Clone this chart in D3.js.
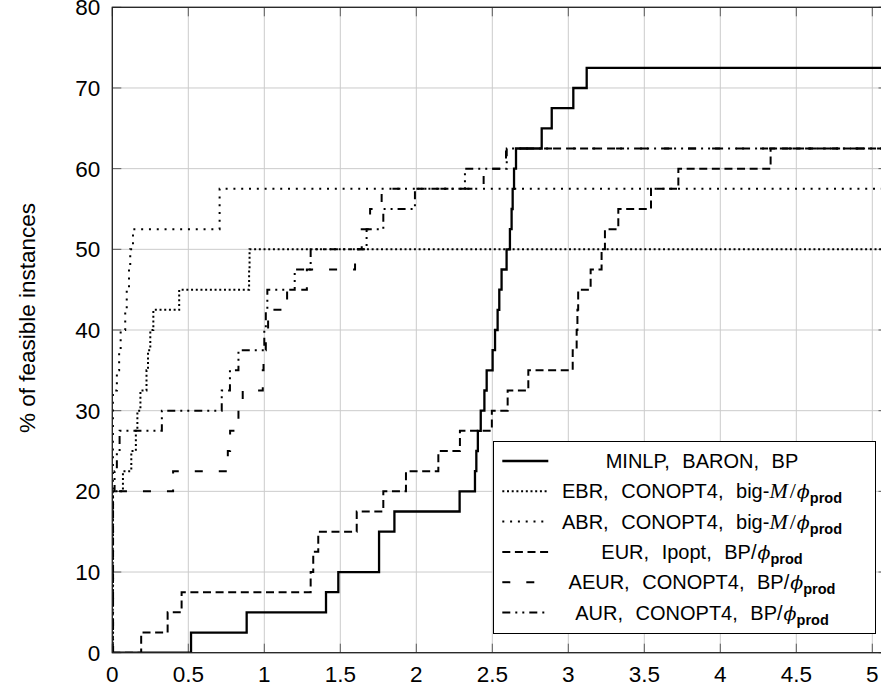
<!DOCTYPE html>
<html>
<head>
<meta charset="utf-8">
<script src="https://cdn.jsdelivr.net/npm/d3@7"></script>
<style>
  body { margin: 0; background: #fff; }
</style>
</head>
<body>
<div id="chart-container"></div>
<script>
/* global d3 */

// Data: step points (x where the curve jumps to y), % of feasible instances
const minlpX = [0, 0.518, 0.884, 1.406, 1.487, 1.755, 1.856, 2.285, 2.386, 2.395, 2.405, 2.424, 2.448, 2.463, 2.502, 2.518, 2.535, 2.546, 2.561, 2.594, 2.616, 2.627, 2.634, 2.643, 2.656, 2.825, 2.891, 3.033, 3.121]
const minlpY = [0, 2.5, 5, 7.5, 10, 15, 17.5, 20, 22.5, 25, 27.5, 30, 32.5, 35, 37.5, 40, 42.5, 45, 47.5, 50, 52.5, 55, 57.5, 60, 62.5, 65, 67.5, 70, 72.5]

const ebrX = [0, 0.003, 0.07, 0.125, 0.155, 0.165, 0.185, 0.225, 0.235, 0.25, 0.27, 0.44, 0.9, 0.903]
const ebrY = [0, 20, 22.5, 25, 27.5, 30, 32.5, 35, 37.5, 40, 42.5, 45, 47.5, 50]

const abrX = [0, 0.004, 0.03, 0.045, 0.055, 0.085, 0.095, 0.11, 0.118, 0.136, 0.706]
const abrY = [0, 32.5, 35, 37.5, 40, 42.5, 45, 47.5, 50, 52.5, 57.5]

const eurX = [0, 0.19, 0.364, 0.456, 1.305, 1.322, 1.355, 1.608, 1.783, 1.932, 2.145, 2.287, 2.497, 2.601, 2.737, 3.029, 3.055, 3.06, 3.065, 3.147, 3.219, 3.241, 3.329, 3.544, 3.724, 4.331]
const eurY = [0, 2.5, 5, 7.5, 10, 12.5, 15, 17.5, 20, 22.5, 25, 27.5, 30, 32.5, 35, 37.5, 40, 42.5, 45, 47.5, 50, 52.5, 55, 57.5, 60, 62.5]

const aeurX = [0, 0.005, 0.4, 0.76, 0.775, 0.83, 0.858, 0.99, 0.995, 1.01, 1.025, 1.15, 1.28, 1.597, 1.641, 1.696, 1.772, 2.443, 2.59]
const aeurY = [0, 20, 22.5, 25, 27.5, 30, 32.5, 35, 37.5, 40, 42.5, 45, 47.5, 50, 52.5, 55, 57.5, 60, 62.5]

const aurX = [0, 0.005, 0.015, 0.03, 0.048, 0.326, 0.72, 0.774, 0.83, 1.0, 1.01, 1.02, 1.2, 1.305, 1.673, 1.783, 1.991, 2.32, 2.595]
const aurY = [0, 20, 22.5, 25, 27.5, 30, 32.5, 35, 37.5, 40, 42.5, 45, 47.5, 50, 52.5, 55, 57.5, 60, 62.5]

const xTicks = [0, 0.5, 1, 1.5, 2, 2.5, 3, 3.5, 4, 4.5, 5]
const xTickLabels = ['0', '0.5', '1', '1.5', '2', '2.5', '3', '3.5', '4', '4.5', '5']
const yTicks = [0, 10, 20, 30, 40, 50, 60, 70, 80]
const yTickLabels = ['0', '10', '20', '30', '40', '50', '60', '70', '80']

const legendLabels = [
  'MINLP, BARON, BP',
  'EBR, CONOPT4, big-',
  'ABR, CONOPT4, big-',
  'EUR, Ipopt, BP/',
  'AEUR, CONOPT4, BP/',
  'AUR, CONOPT4, BP/',
]
const legendBigM = [false, true, true, false, false, false]
const legendPhi = [false, true, true, true, true, true]
const yLabel = '% of feasible instances'

// Options:
const width = 881
const height = 691
const plotLeft = 112.3
const plotTop = 7.3
const plotBottom = 652.7
const pxPerUnitX = 152
const xMax = 5.1
const tickLen = 9
const sansFont = "'Liberation Sans', Arial, sans-serif"

const svg = d3
  .select('#chart-container')
  .append('svg')
  .attr('width', width)
  .attr('height', height)
  .attr('viewBox', `0 0 ${width} ${height}`)
  .style('display', 'block')
  .style('background', '#fff')

const xScale = d3
  .scaleLinear()
  .domain([0, xMax])
  .range([plotLeft, plotLeft + xMax * pxPerUnitX])
const yScale = d3.scaleLinear().domain([0, 80]).range([plotBottom, plotTop])

const [x0, x1] = xScale.range()
const [y0, y1] = yScale.range()

svg
  .append('defs')
  .append('clipPath')
  .attr('id', 'plot-clip')
  .append('rect')
  .attr('x', x0)
  .attr('y', y1)
  .attr('width', x1 - x0)
  .attr('height', y0 - y1)

// grid lines
const grid = svg.append('g').attr('stroke', '#cbcbcb').attr('stroke-width', 1)
grid
  .selectAll('line.vgrid')
  .data(xTicks)
  .join('line')
  .attr('class', 'vgrid')
  .attr('x1', d => xScale(d))
  .attr('x2', d => xScale(d))
  .attr('y1', y0)
  .attr('y2', y1)
grid
  .selectAll('line.hgrid')
  .data(yTicks)
  .join('line')
  .attr('class', 'hgrid')
  .attr('x1', x0)
  .attr('x2', x1)
  .attr('y1', d => yScale(d))
  .attr('y2', d => yScale(d))

// inward tick marks on all four sides
const ticks = svg.append('g').attr('stroke', '#5a5a5a').attr('stroke-width', 1)
xTicks.forEach(t => {
  ticks.append('line').attr('x1', xScale(t)).attr('x2', xScale(t)).attr('y1', y0).attr('y2', y0 - tickLen)
  ticks.append('line').attr('x1', xScale(t)).attr('x2', xScale(t)).attr('y1', y1).attr('y2', y1 + tickLen)
})
yTicks.forEach(t => {
  ticks.append('line').attr('x1', x0).attr('x2', x0 + tickLen).attr('y1', yScale(t)).attr('y2', yScale(t))
  ticks.append('line').attr('x1', x1).attr('x2', x1 - tickLen).attr('y1', yScale(t)).attr('y2', yScale(t))
})

// series
const series = [
  { xs: minlpX, ys: minlpY, dash: null, lw: 2.3 },
  { xs: ebrX, ys: ebrY, dash: '2,2.7', lw: 2 },
  { xs: abrX, ys: abrY, dash: '2,5.8', lw: 2 },
  { xs: eurX, ys: eurY, dash: '8,4.6', lw: 2 },
  { xs: aeurX, ys: aeurY, dash: '8,16', lw: 2 },
  { xs: aurX, ys: aurY, dash: '8,5,2,5,2,5', lw: 2 },
]

const stepLine = d3
  .line()
  .x(d => xScale(d[0]))
  .y(d => yScale(d[1]))
  .curve(d3.curveStepAfter)

const lines = svg.append('g').attr('clip-path', 'url(#plot-clip)')
series.forEach(s => {
  const pts = s.xs.map((x, i) => [x, s.ys[i]])
  pts.push([xMax + 0.2, s.ys[s.ys.length - 1]])
  lines
    .append('path')
    .attr('d', stepLine(pts))
    .attr('fill', 'none')
    .attr('stroke', '#000')
    .attr('stroke-width', s.lw)
    .attr('stroke-dasharray', s.dash)
})

// axis frame
svg
  .append('rect')
  .attr('x', x0)
  .attr('y', y1)
  .attr('width', x1 - x0)
  .attr('height', y0 - y1)
  .attr('fill', 'none')
  .attr('stroke', '#222')
  .attr('stroke-width', 1.3)

// tick labels
svg
  .append('g')
  .attr('font-family', sansFont)
  .attr('font-size', 22.5)
  .attr('fill', '#000')
  .attr('text-anchor', 'middle')
  .selectAll('text')
  .data(xTicks)
  .join('text')
  .attr('x', d => xScale(d))
  .attr('y', y0 + 29)
  .text((d, i) => xTickLabels[i])

svg
  .append('g')
  .attr('font-family', sansFont)
  .attr('font-size', 22.5)
  .attr('fill', '#000')
  .attr('text-anchor', 'end')
  .selectAll('text')
  .data(yTicks)
  .join('text')
  .attr('x', x0 - 12)
  .attr('y', d => yScale(d) + 8)
  .text((d, i) => yTickLabels[i])

// y-axis label
svg
  .append('text')
  .attr('transform', `translate(35, 318) rotate(-90)`)
  .attr('text-anchor', 'middle')
  .attr('font-family', sansFont)
  .attr('font-size', 22.5)
  .attr('fill', '#000')
  .text(yLabel)

// legend
const legendX = 493.5
const legendY = 441.5
const legendW = 382
const legendH = 192
const rowTop = 461
const rowGap = 30.3

const legend = svg.append('g')
legend
  .append('rect')
  .attr('x', legendX)
  .attr('y', legendY)
  .attr('width', legendW)
  .attr('height', legendH)
  .attr('fill', '#fff')
  .attr('stroke', '#000')
  .attr('stroke-width', 1)

legendLabels.forEach((label, i) => {
  const cy = rowTop + i * rowGap
  legend
    .append('line')
    .attr('x1', 502.3)
    .attr('x2', 548.3)
    .attr('y1', cy)
    .attr('y2', cy)
    .attr('stroke', '#000')
    .attr('stroke-width', series[i].lw)
    .attr('stroke-dasharray', series[i].dash)

  const t = legend
    .append('text')
    .attr('x', 702)
    .attr('y', cy + 7)
    .attr('text-anchor', 'middle')
    .attr('font-family', sansFont)
    .attr('font-size', 20)
    .attr('fill', '#000')
    .style('word-spacing', '7px')
  t.append('tspan').text(label)
  if (legendBigM[i]) {
    t.append('tspan')
      .attr('font-family', "'Liberation Serif', 'DejaVu Serif', serif")
      .attr('font-style', 'italic')
      .attr('font-size', 22)
      .text('M')
    t.append('tspan')
      .attr('font-family', "'Liberation Serif', 'DejaVu Serif', serif")
      .attr('font-size', 22)
      .attr('dx', 2)
      .text('/')
  }
  if (legendPhi[i]) {
    t.append('tspan')
      .attr('font-family', "'DejaVu Serif', serif")
      .attr('font-style', 'italic')
      .attr('font-size', 19)
      .attr('dx', 1)
      .text('ϕ')
    t.append('tspan')
      .attr('font-weight', 'bold')
      .attr('font-size', 14.5)
      .attr('dy', 5)
      .text('prod')
  }
})
</script>
</body>
</html>
